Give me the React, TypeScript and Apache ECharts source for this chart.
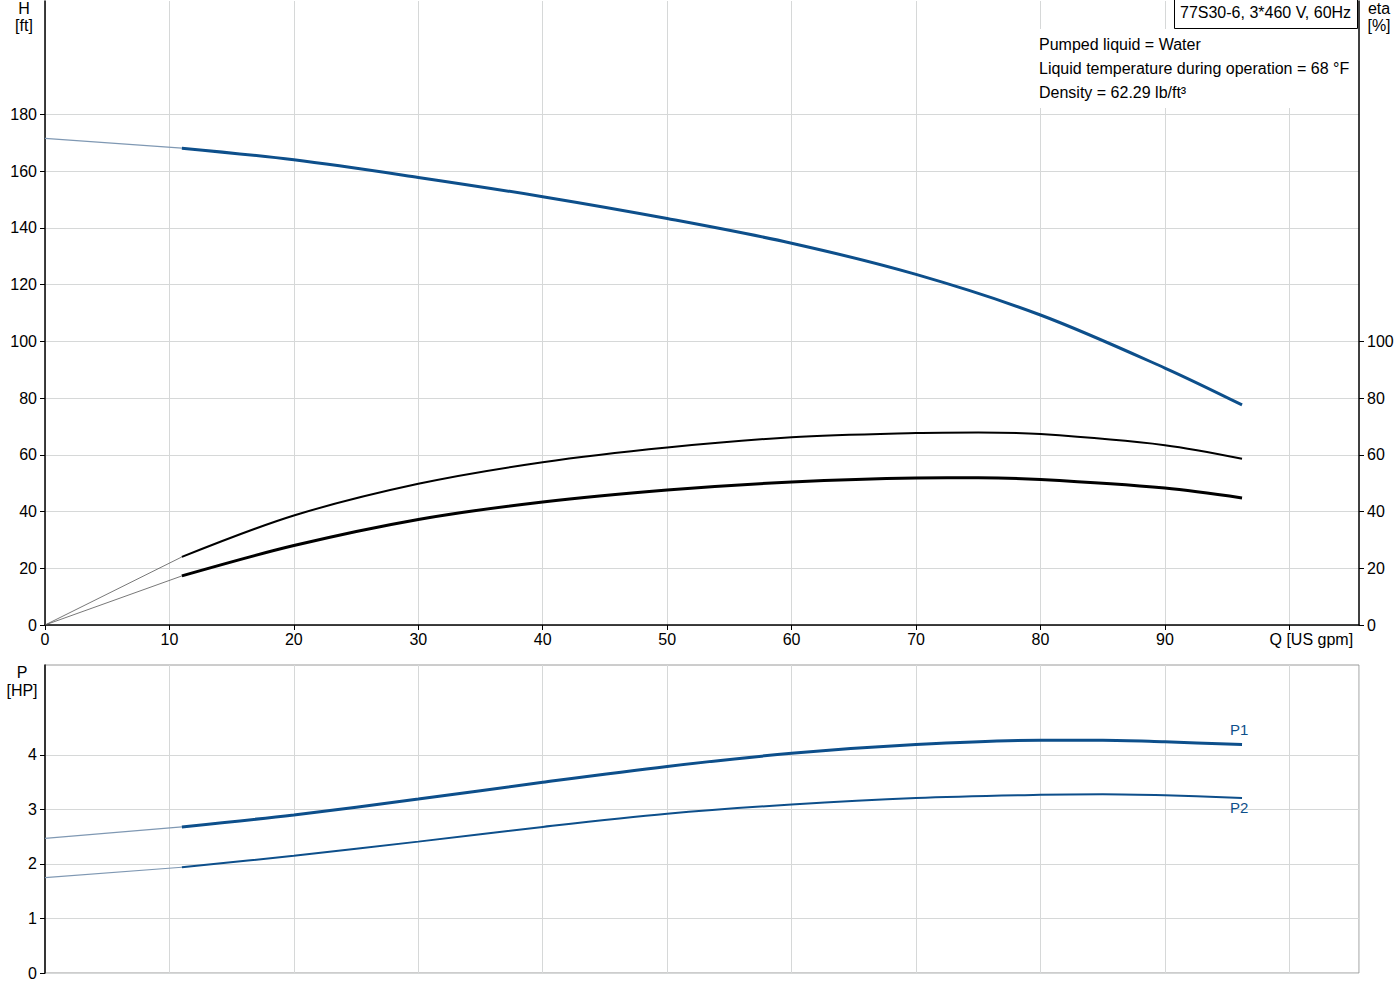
import { useEffect, useRef } from "react";
import * as echarts from "echarts";

// flow values (US gpm) for each curve
const qHead = [11, 20, 30, 40, 50, 60, 70, 80, 90, 96.2];
const head = [168.1, 164.0, 157.8, 151.0, 143.3, 134.6, 123.6, 109.3, 90.6, 77.6];

const qEta = [11, 20, 30, 40, 50, 60, 70, 75, 80, 90, 96.2];
const etaPump = [24.0, 38.6, 49.8, 57.4, 62.6, 66.2, 67.7, 67.9, 67.3, 63.4, 58.6];
const etaTotal = [17.3, 28.0, 37.2, 43.4, 47.6, 50.4, 51.8, 51.9, 51.3, 48.3, 44.8];

const qPower = [11, 20, 30, 40, 50, 60, 70, 80, 85, 90, 96.2];
const p1 = [2.68, 2.9, 3.19, 3.5, 3.79, 4.03, 4.19, 4.27, 4.27, 4.24, 4.19];
const p2 = [1.94, 2.15, 2.41, 2.68, 2.92, 3.09, 3.21, 3.27, 3.28, 3.26, 3.21];

// thin extensions below the operating range
const qExt = [0, 11];
const headExt = [171.6, 168.1];
const etaPumpExt = [0, 24.0];
const etaTotalExt = [0, 17.3];
const p1Ext = [2.47, 2.68];
const p2Ext = [1.75, 1.94];

const headTicks = [0, 20, 40, 60, 80, 100, 120, 140, 160, 180];
const etaTicks = [0, 20, 40, 60, 80, 100];
const powerTicks = [0, 1, 2, 3, 4];
const flowTicks = [0, 10, 20, 30, 40, 50, 60, 70, 80, 90, 100];

const infoLines = [
  "Pumped liquid = Water",
  "Liquid temperature during operation = 68 °F",
  "Density = 62.29 lb/ft³",
];
const pumpName = "77S30-6, 3*460 V, 60Hz";

const FONT = "Liberation Sans, Arial, sans-serif";
const BLUE = "#0d4f8b";
const GRID = "#d6d8d8";
const SMOOTH = 0.33;

const zip = (xs: number[], ys: number[]) => xs.map((x, i) => [x, ys[i]]);

const App = () => {
  const chartRef = useRef<HTMLDivElement>(null);

  useEffect(() => {
    document.body.style.margin = "0";
    if (!chartRef.current) return;
    const chart = echarts.init(chartRef.current, null, { renderer: "svg" });

    const labelStyle = { color: "#000", fontFamily: FONT, fontSize: 16 };
    const splitLine = { show: true, lineStyle: { color: GRID, width: 1 } };
    const blackTick = (values: number[]) => ({
      show: true,
      length: 5,
      customValues: values,
      lineStyle: { color: "#000" },
    });

    const txt = (text: string, x: number, y: number, align = "center", color = "#000") => ({
      type: "text",
      x,
      y,
      z: 20,
      style: {
        text,
        fill: color,
        font: `16px ${FONT}`,
        textAlign: align,
        textVerticalAlign: "middle",
      },
    });

    const option = {
      animation: false,
      backgroundColor: "#fff",
      tooltip: { show: false },
      grid: [
        { left: 45, right: 41, top: 1, height: 624, show: false },
        {
          left: 45,
          right: 41,
          top: 665,
          height: 308,
          show: true,
          borderColor: "#9a9a9a",
          borderWidth: 1,
        },
      ],
      xAxis: [
        {
          type: "value",
          gridIndex: 0,
          min: 0,
          max: 105.6,
          interval: 10,
          axisLine: { show: true, onZero: false, lineStyle: { color: "#000", width: 1.5 } },
          axisTick: blackTick(flowTicks),
          axisLabel: {
            ...labelStyle,
            margin: 6,
            customValues: flowTicks,
            formatter: (v: number) => (v === 100 ? "{q|Q [US gpm]}" : String(v)),
            rich: { q: { ...labelStyle, padding: [0, 0, 0, 44] } },
          },
          splitLine,
        },
        {
          type: "value",
          gridIndex: 1,
          min: 0,
          max: 105.6,
          interval: 10,
          axisLine: { show: false },
          axisTick: { show: false },
          axisLabel: { show: false },
          splitLine,
        },
      ],
      yAxis: [
        {
          type: "value",
          gridIndex: 0,
          position: "left",
          min: 0,
          max: 220,
          interval: 20,
          axisLine: { show: true, lineStyle: { color: "#000", width: 1.5 } },
          axisTick: blackTick(headTicks),
          axisLabel: { ...labelStyle, margin: 8, customValues: headTicks },
          splitLine,
        },
        {
          type: "value",
          gridIndex: 0,
          position: "right",
          min: 0,
          max: 220,
          interval: 20,
          axisLine: { show: true, lineStyle: { color: "#000", width: 1.5 } },
          axisTick: blackTick(etaTicks),
          axisLabel: { ...labelStyle, margin: 8, customValues: etaTicks },
          splitLine: { show: false },
        },
        {
          type: "value",
          gridIndex: 1,
          min: 0,
          max: 5.65,
          interval: 1,
          axisLine: { show: true, lineStyle: { color: "#000", width: 1.5 } },
          axisTick: blackTick(powerTicks),
          axisLabel: { ...labelStyle, margin: 8, customValues: powerTicks },
          splitLine,
        },
      ],
      series: [
        {
          name: "H ext",
          type: "line",
          xAxisIndex: 0,
          yAxisIndex: 0,
          data: zip(qExt, headExt),
          symbol: "none",
          lineStyle: { color: "#7f98b3", width: 1.2 },
        },
        {
          name: "H",
          type: "line",
          xAxisIndex: 0,
          yAxisIndex: 0,
          data: zip(qHead, head),
          smooth: SMOOTH,
          symbol: "none",
          lineStyle: { color: BLUE, width: 3 },
        },
        {
          name: "eta ext",
          type: "line",
          xAxisIndex: 0,
          yAxisIndex: 1,
          data: zip(qExt, etaPumpExt),
          symbol: "none",
          lineStyle: { color: "#555", width: 0.8 },
        },
        {
          name: "eta",
          type: "line",
          xAxisIndex: 0,
          yAxisIndex: 1,
          data: zip(qEta, etaPump),
          smooth: SMOOTH,
          symbol: "none",
          lineStyle: { color: "#000", width: 2 },
        },
        {
          name: "eta total ext",
          type: "line",
          xAxisIndex: 0,
          yAxisIndex: 1,
          data: zip(qExt, etaTotalExt),
          symbol: "none",
          lineStyle: { color: "#555", width: 0.8 },
        },
        {
          name: "eta total",
          type: "line",
          xAxisIndex: 0,
          yAxisIndex: 1,
          data: zip(qEta, etaTotal),
          smooth: SMOOTH,
          symbol: "none",
          lineStyle: { color: "#000", width: 3 },
        },
        {
          name: "P1 ext",
          type: "line",
          xAxisIndex: 1,
          yAxisIndex: 2,
          data: zip(qExt, p1Ext),
          symbol: "none",
          lineStyle: { color: "#7f98b3", width: 1.2 },
        },
        {
          name: "P1",
          type: "line",
          xAxisIndex: 1,
          yAxisIndex: 2,
          data: zip(qPower, p1),
          smooth: SMOOTH,
          symbol: "none",
          lineStyle: { color: BLUE, width: 3 },
          endLabel: {
            show: true,
            formatter: "P1",
            color: BLUE,
            fontFamily: FONT,
            fontSize: 15,
            distance: 0,
            offset: [-12, -15],
          },
        },
        {
          name: "P2 ext",
          type: "line",
          xAxisIndex: 1,
          yAxisIndex: 2,
          data: zip(qExt, p2Ext),
          symbol: "none",
          lineStyle: { color: "#7f98b3", width: 1.2 },
        },
        {
          name: "P2",
          type: "line",
          xAxisIndex: 1,
          yAxisIndex: 2,
          data: zip(qPower, p2),
          smooth: SMOOTH,
          symbol: "none",
          lineStyle: { color: BLUE, width: 2 },
          endLabel: {
            show: true,
            formatter: "P2",
            color: BLUE,
            fontFamily: FONT,
            fontSize: 15,
            distance: 0,
            offset: [-12, 9],
          },
        },
      ],
      graphic: [
        {
          type: "rect",
          z: 10,
          shape: { x: 1036, y: 29, width: 321, height: 79 },
          style: { fill: "#fff" },
        },
        {
          type: "rect",
          z: 10,
          shape: { x: 1174.5, y: -1, width: 183, height: 29.5 },
          style: { fill: "#fff", stroke: "#000", lineWidth: 1 },
        },
        txt(pumpName, 1180, 12, "left"),
        ...infoLines.map((t, i) => txt(t, 1039, 44 + i * 24, "left")),
        txt("H", 24, 8),
        txt("[ft]", 24, 25),
        txt("eta", 1379, 8),
        txt("[%]", 1379, 25),
        txt("P", 22, 672),
        txt("[HP]", 22, 690),
      ],
    };

    chart.setOption(option);
    return () => chart.dispose();
  }, []);

  return <div ref={chartRef} style={{ width: 1400, height: 1000 }} />;
};

export default App;
